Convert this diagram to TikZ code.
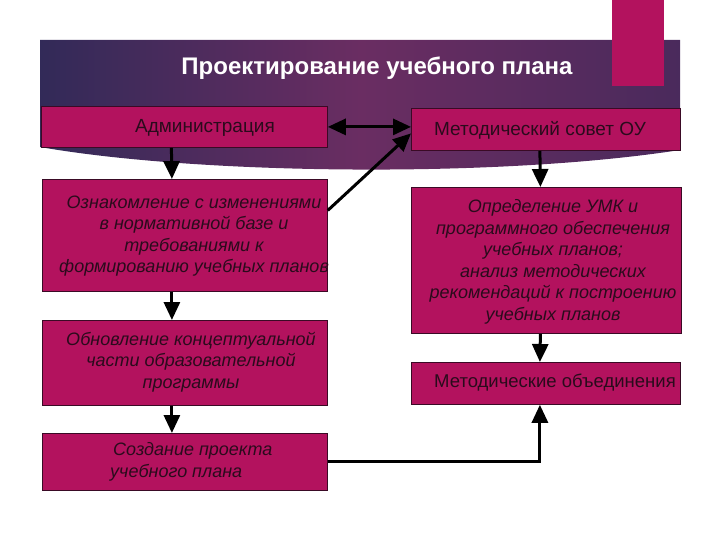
\documentclass[tikz,border=0pt]{standalone}
\usepackage{fontspec}
\setmainfont{Liberation Sans}
\usetikzlibrary{arrows.meta}
\definecolor{boxfill}{HTML}{B3125E}
\definecolor{boxline}{HTML}{3A0A25}
\definecolor{boxtext}{HTML}{2A0B1C}
\definecolor{bandL}{HTML}{322A58}
\definecolor{bandM}{HTML}{6A2D62}
\definecolor{bandR}{HTML}{4A2A5C}
\tikzset{
  box/.style={draw=boxline, line width=0.8pt, fill=boxfill, minimum width=#1, inner sep=0pt, anchor=north west},
  btext/.style={text=boxtext, font=\fontsize{19}{21.5}\selectfont, align=center, inner sep=0pt},
  itext/.style={btext, font=\fontsize{18}{21.5}\selectfont\itshape},
  tip/.tip={Triangle[length=18pt,width=16pt]},
  arr/.style={line width=3pt, -tip},
  darr/.style={line width=3pt, tip-tip}
}
\begin{document}
\begin{tikzpicture}[x=1pt,y=-1pt]
\useasboundingbox (0,0) rectangle (720,540);
% header band
\shade[left color=bandL, right color=bandR, middle color=bandM]
  (40,40) -- (680,40) -- (680,150) .. controls (500,178) and (200,175) .. (40,147) -- cycle;
\node[fill=boxfill, minimum width=52pt, minimum height=86pt, inner sep=0pt, anchor=north west] (tab) at (612,0) {};
\node[text=white, font=\fontsize{24}{28}\selectfont\bfseries, inner sep=0pt] (title) at (377,68) {Проектирование учебного плана};
% boxes
\node[box=286pt, minimum height=41pt] (adm) at (41,106) {};
\node[box=269pt, minimum height=42pt] (ms) at (411,108) {};
\node[box=285pt, minimum height=112pt] (ozn) at (42,179) {};
\node[box=270pt, minimum height=146pt] (op) at (411,187) {};
\node[box=285pt, minimum height=85pt] (obn) at (42,320) {};
\node[box=269pt, minimum height=42pt] (mo) at (411,362) {};
\node[box=285pt, minimum height=57pt] (soz) at (42,433) {};
% texts
\node[btext] (admT) at (205,128) {Администрация};
\node[btext] (msT) at (540,130) {Методический совет ОУ};
\node[itext] (oznT) at (194,236) {Ознакомление с изменениями\\в нормативной базе и\\требованиями к\\формированию учебных планов};
\node[itext] (opT) at (553,262) {Определение УМК и\\программного обеспечения\\учебных планов;\\анализ методических\\рекомендаций к построению\\учебных планов};
\node[itext] (obnT) at (191,362) {Обновление концептуальной\\части образовательной\\программы};
\node[btext, font=\fontsize{18.5}{21.5}\selectfont] (moT) at (555,383) {Методические объединения};
\node[itext, align=left, anchor=west] (sozT) at (110,462) {\hspace*{3pt}Создание проекта\\учебного плана};
% connectors
\draw[arr] ([xshift=-13pt]adm.south) -- ([xshift=-13pt]ozn.north);
\draw[darr] (adm.east) -- (adm.east -| ms.west);
\draw[arr] ([yshift=25pt]ozn.east) -- ([yshift=-4pt]ms.west);
\draw[arr] ([xshift=-13pt]ozn.south) -- ([xshift=-13pt]obn.north);
\draw[arr] ([xshift=-13pt]obn.south) -- ([xshift=-13pt]soz.north);
\draw[arr] ([xshift=-6pt]ms.south) -- ([xshift=-6pt]op.north);
\draw[arr] ([xshift=-6pt]op.south) -- ([xshift=-6pt]mo.north);
\draw[arr] (soz.east) -| ([xshift=-6pt]mo.south);
\end{tikzpicture}
\end{document}
